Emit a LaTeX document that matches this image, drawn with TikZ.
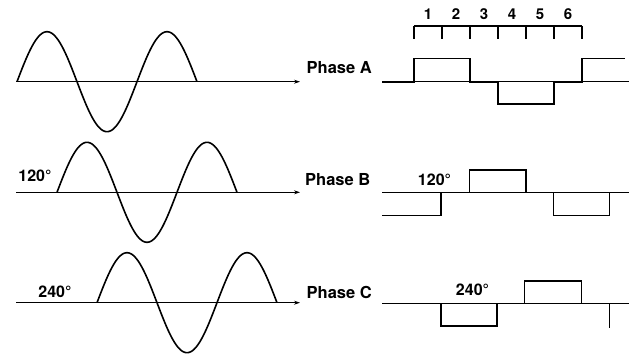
\documentclass[tikz,border=0pt]{standalone}
\usepackage{fontspec}
\setmainfont{TeX Gyre Heros}
\usetikzlibrary{arrows.meta}
\begin{document}
\begin{tikzpicture}[x=1pt,y=-1pt,
  sine/.style={line width=1.6pt,line join=round},
  axisline/.style={line width=0.8pt,-{Stealth[length=6pt,width=4pt]}},
  base/.style={line width=0.6pt},
  wave/.style={line width=1.6pt,line join=miter},
  ruler/.style={line width=1.3pt},
  plabel/.style={font=\fontsize{16.5}{18}\selectfont\bfseries,inner sep=0pt,anchor=west},
  deg/.style={font=\fontsize{16}{18}\selectfont\bfseries,inner sep=0pt},
  num/.style={font=\fontsize{15}{17}\selectfont\bfseries,inner sep=0pt}]
\useasboundingbox (0,0) rectangle (629,360);
% ---------- Phase A ----------
\coordinate (aS) at (16,81.7);
\coordinate (aE) at (300,81.7);
\draw[axisline] (aS) -- (aE);
\draw[sine] plot[domain=0:180,samples=120] ({17+\x},{81.7-50*sin(3*\x)});
\node[plabel] (pA) at (306.5,67.5) {Phase A};
% ruler
\draw[ruler] (414,26) -- (582,26);
\foreach \k in {0,...,6} \draw[ruler] ({414+28*\k},26) -- ({414+28*\k},39);
\foreach \k in {1,...,6} \node[num] (n\k) at ({400+28*\k},14) {\k};
\coordinate (aB0) at (382,81.7);
\coordinate (aB1) at (629,81.7);
\draw[base] (aB0) -- (aB1);
\draw[wave] (382,81.7) -- (414,81.7) -- (414,58.5) -- (470,58.5) -- (470,81.7)
  -- (498,81.7) -- (498,104) -- (554,104) -- (554,81.7) -- (582,81.7)
  -- (582,58.5) -- (625,58.5);
% ---------- Phase B ----------
\coordinate (bS) at (16,192.3);
\coordinate (bE) at (300,192.3);
\draw[axisline] (bS) -- (bE);
\draw[sine] plot[domain=0:180,samples=120] ({57+\x},{192.3-50*sin(3*\x)});
\node[plabel] (pB) at (305,180) {Phase B};
\node[deg] (dB1) at (35,176) {120°};
\coordinate (bB0) at (382,192.3);
\coordinate (bB1) at (629,192.3);
\draw[base] (bB0) -- (bB1);
\draw[wave] (382,215.5) -- (441,215.5) -- (441,192.3) -- (469.5,192.3) -- (469.5,170)
  -- (526,170) -- (526,192.3) -- (553.5,192.3) -- (553.5,215.5) -- (609.5,215.5)
  -- (609.5,192.3);
\node[deg] (dB2) at (434.5,180) {120°};
% ---------- Phase C ----------
\coordinate (cS) at (16,302.7);
\coordinate (cE) at (300,302.7);
\draw[axisline] (cS) -- (cE);
\draw[sine] plot[domain=0:180,samples=120] ({97+\x},{302.7-50*sin(3*\x)});
\node[plabel] (pC) at (306.5,292.7) {Phase C};
\node[deg] (dC1) at (55,291.5) {240°};
\coordinate (cB0) at (382,303.3);
\coordinate (cB1) at (629,303.3);
\draw[base] (cB0) -- (cB1);
\draw[wave] (408,303.3) -- (441,303.3) -- (441,325.7) -- (497,325.7) -- (497,303.3)
  -- (524.5,303.3) -- (524.5,280.7) -- (581.5,280.7) -- (581.5,303.3) -- (609.5,303.3)
  -- (609.5,327.5);
\node[deg] (dC2) at (472.5,290) {240°};
\end{tikzpicture}
\end{document}
